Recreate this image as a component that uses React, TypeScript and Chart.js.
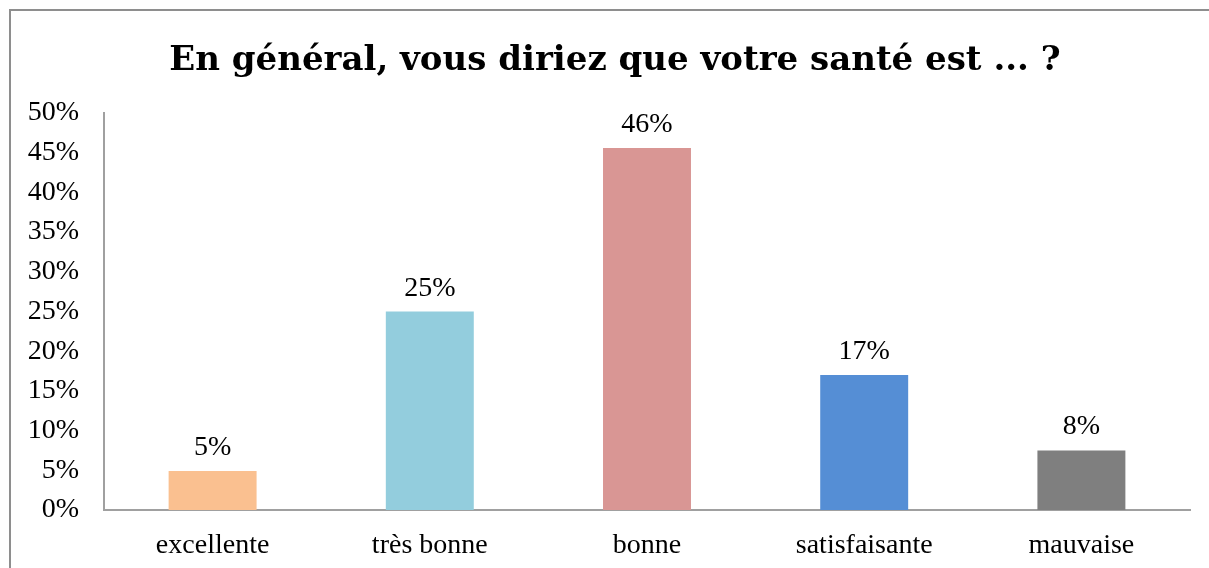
import React, { useEffect, useRef } from "react";
import { Chart, registerables } from "chart.js";

Chart.register(...registerables);

const TITLE = "En général, vous diriez que votre santé est ... ?";
const categories = ["excellente", "très bonne", "bonne", "satisfaisante", "mauvaise"];
const values = [4.9, 25, 45.6, 17, 7.5];
const barColors = ["#FAC090", "#93CDDD", "#D99694", "#558ED5", "#7F7F7F"];
const yTicksMax = 50;
const yTickStep = 5;

const FONT = "'Liberation Serif', 'Times New Roman', serif";
const TITLE_FONT = "bold 34px 'DejaVu Serif', serif";

const titlePlugin = {
  id: "frameTitle",
  afterDraw(chart: any) {
    const ctx = chart.ctx;
    ctx.save();
    ctx.font = TITLE_FONT;
    ctx.fillStyle = "#000";
    ctx.textAlign = "center";
    ctx.textBaseline = "alphabetic";
    // centred on the outer frame (which extends past the right edge)
    ctx.fillText(TITLE, (chart.width + 21) / 2, 70);
    ctx.restore();
  },
};

const dataLabelPlugin = {
  id: "dataLabels",
  afterDatasetsDraw(chart: any) {
    const ctx = chart.ctx;
    const meta = chart.getDatasetMeta(0);
    ctx.save();
    ctx.font = `28px ${FONT}`;
    ctx.fillStyle = "#000";
    ctx.textAlign = "center";
    ctx.textBaseline = "alphabetic";
    meta.data.forEach((bar: any, i: number) => {
      const v = chart.data.datasets[0].data[i];
      ctx.fillText(Math.round(v) + "%", bar.x, bar.y - 16);
    });
    ctx.restore();
  },
};

export default function App() {
  const ref = useRef<HTMLCanvasElement>(null);
  useEffect(() => {
    if (!ref.current) return;
    const chart = new Chart(ref.current, {
      type: "bar",
      data: {
        labels: categories,
        datasets: [
          {
            data: values,
            backgroundColor: barColors,
            borderWidth: 0,
            categoryPercentage: 1,
            barPercentage: 0.405,
          },
        ],
      },
      options: {
        animation: false,
        responsive: false,
        maintainAspectRatio: false,
        layout: { padding: { left: 0, right: 19, top: 113, bottom: 0 } },
        plugins: {
          legend: { display: false },
          tooltip: { enabled: false },
          title: { display: false },
        },
        scales: {
          x: {
            grid: { display: false, drawTicks: false },
            border: { display: true, color: "#a0a0a0", width: 2 },
            ticks: {
              color: "#000",
              font: { family: FONT, size: 28 },
              padding: 19,
              maxRotation: 0,
            },
            afterFit: (scale: any) => {
              scale.height = 58;
            },
          },
          y: {
            min: 0,
            max: yTicksMax,
            grid: { display: false, drawTicks: false },
            border: { display: true, color: "#a0a0a0", width: 2 },
            ticks: {
              stepSize: yTickStep,
              color: "#000",
              font: { family: FONT, size: 28 },
              padding: 25,
              callback: (v: any) => v + "%",
            },
            afterFit: (scale: any) => {
              scale.width = 104;
            },
          },
        },
      },
      plugins: [dataLabelPlugin, titlePlugin],
    });
    return () => chart.destroy();
  }, []);

  return (
    <div style={{ position: "fixed", left: 0, top: 0, width: 1209, height: 568, overflow: "hidden", background: "#fff" }}>
      <div
        style={{
          position: "absolute",
          left: 9,
          top: 9,
          width: 1400,
          height: 800,
          borderLeft: "2px solid #8e8e8e",
          borderTop: "2px solid #8e8e8e",
        }}
      />
      <canvas ref={ref} width={1209} height={568} style={{ position: "absolute", left: 0, top: 0 }} />
    </div>
  );
}
